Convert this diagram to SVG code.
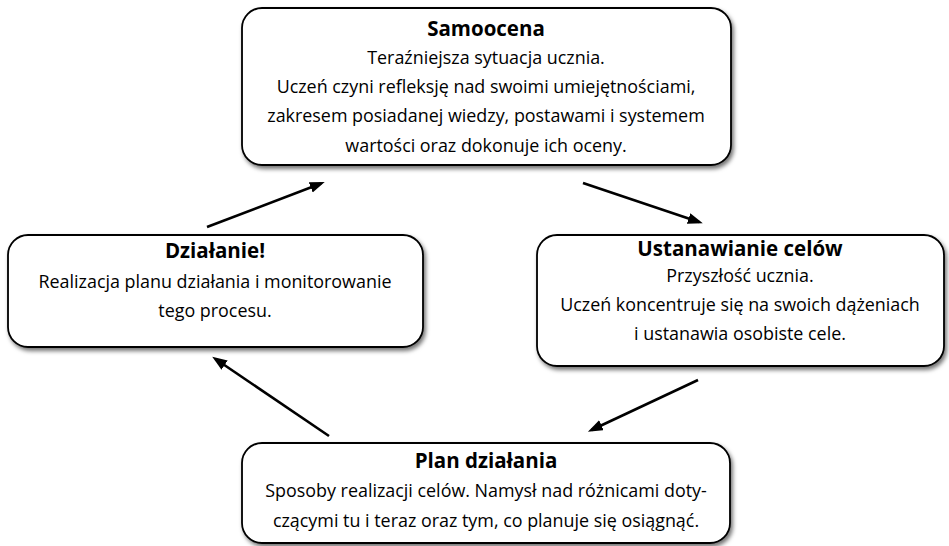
<svg xmlns="http://www.w3.org/2000/svg" width="949" height="546" viewBox="0 0 949 546">
<defs>
<filter id="sh" x="-10%" y="-10%" width="120%" height="130%">
<feDropShadow dx="2" dy="3" stdDeviation="2" flood-color="#000" flood-opacity="0.55"/>
</filter>
<marker id="ah" markerUnits="userSpaceOnUse" markerWidth="16" markerHeight="12" refX="11" refY="5.5" orient="auto">
<path d="M0,0 L15,5.5 L0,11 z" fill="#000"/>
</marker>
<style>
.box{fill:#fff;stroke:#000;stroke-width:1.8;filter:url(#sh)}
.t{font-family:"Open Sans","Noto Sans",sans-serif;font-size:20.5px;font-weight:bold;text-anchor:middle;fill:#000}
.b{font-family:"Open Sans","Noto Sans",sans-serif;font-size:17.9px;text-anchor:middle;fill:#000}
.c{stroke:#000;stroke-width:2.6;fill:none;marker-end:url(#ah)}
</style>
</defs>
<rect width="949" height="546" fill="#fff"/>
<g id="samoocena">
<rect class="box" x="242" y="8" width="489" height="157" rx="20"/>
<text class="t" x="486" y="36">Samoocena</text>
<text class="b" x="486" y="64">Teraźniejsza sytuacja ucznia.</text>
<text class="b" x="486" y="93">Uczeń czyni refleksję nad swoimi umiejętnościami,</text>
<text class="b" x="486" y="122">zakresem posiadanej wiedzy, postawami i systemem</text>
<text class="b" x="486" y="152">wartości oraz dokonuje ich oceny.</text>
</g>
<g id="ustanawianie">
<rect class="box" x="537" y="235" width="407" height="131" rx="20"/>
<text class="t" x="740" y="256">Ustanawianie celów</text>
<text class="b" x="740" y="282">Przyszłość ucznia.</text>
<text class="b" x="740" y="311">Uczeń koncentruje się na swoich dążeniach</text>
<text class="b" x="740" y="340">i ustanawia osobiste cele.</text>
</g>
<g id="plan">
<rect class="box" x="242" y="443" width="488" height="100" rx="20"/>
<text class="t" x="486" y="468">Plan działania</text>
<text class="b" x="486" y="497">Sposoby realizacji celów. Namysł nad różnicami doty-</text>
<text class="b" x="486" y="527">czącymi tu i teraz oraz tym, co planuje się osiągnąć.</text>
</g>
<g id="dzialanie">
<rect class="box" x="8" y="235" width="415" height="112" rx="20"/>
<text class="t" x="215" y="258">Działanie!</text>
<text class="b" x="215" y="288">Realizacja planu działania i monitorowanie</text>
<text class="b" x="215" y="317">tego procesu.</text>
</g>
<g id="connectors">
<line class="c" x1="207" y1="227" x2="321" y2="183.5"/>
<line class="c" x1="583" y1="183" x2="699" y2="222"/>
<line class="c" x1="698" y1="380" x2="591.5" y2="430"/>
<line class="c" x1="329" y1="436" x2="215.5" y2="359"/>
</g>
</svg>
